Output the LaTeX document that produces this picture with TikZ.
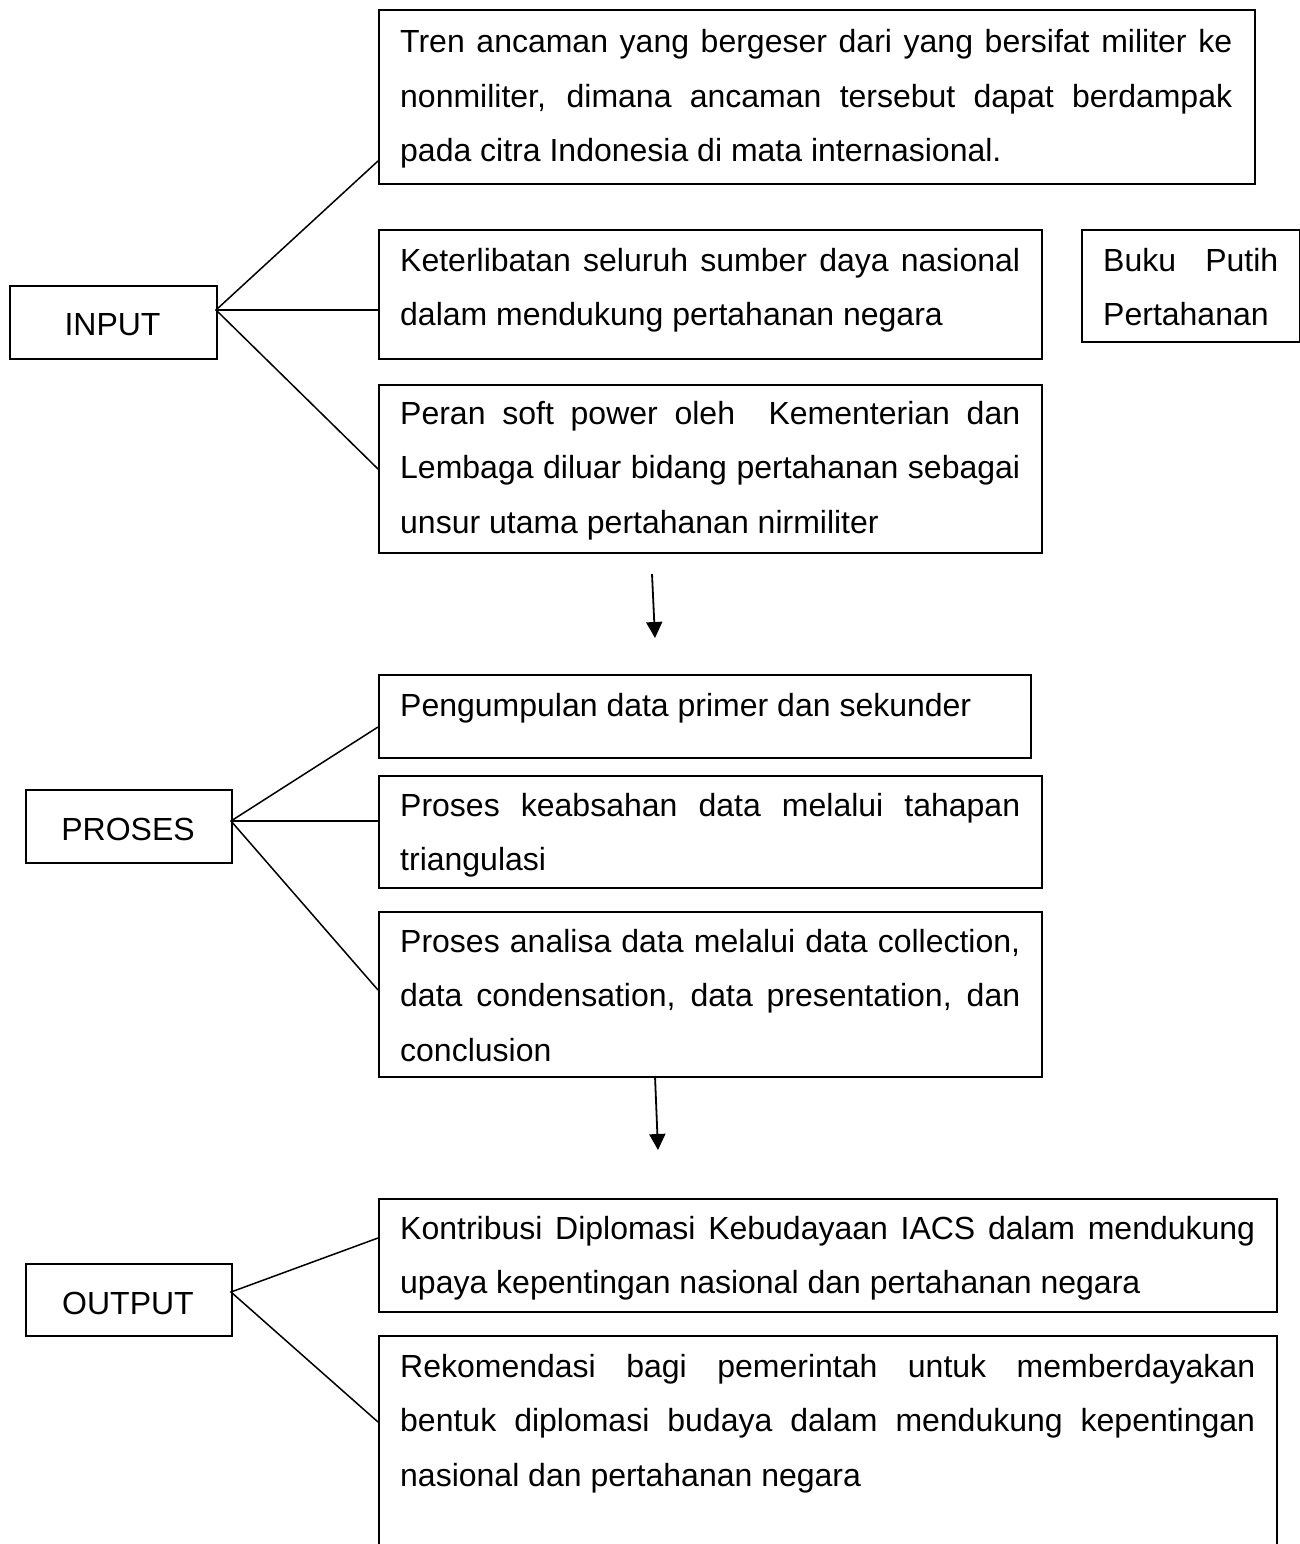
\documentclass[tikz,border=0pt]{standalone}
\usepackage{fontspec}
\setmainfont{Liberation Sans}
\usetikzlibrary{arrows.meta}
\tikzset{
  box/.style={draw, line width=1.8pt, rectangle, inner sep=0pt, anchor=north west},
  txt/.style={inner sep=0pt, anchor=base west, align=justify, font=\fontsize{32}{54.5}\selectfont},
  lbl/.style={inner sep=0pt, anchor=base, font=\fontsize{32}{38}\selectfont},
  conn/.style={line width=1.5pt},
  flow/.style={line width=1.8pt, -{Triangle[width=16pt,length=16pt]}}
}
\newcommand{\jl}[2]{{\spaceskip=\fontdimen2\font plus 1fil\relax\makebox[#1pt][s]{#2}}}
\newcommand{\nsp}{\spaceskip=0pt\xspaceskip=0pt\relax}
\begin{document}
\begin{tikzpicture}[x=1pt,y=-1pt]
\useasboundingbox (0,0) rectangle (1300,1544);
\clip (0,0) rectangle (1300,1544);

% boxes
\node[box, minimum width=876pt, minimum height=174pt] (tren) at (378,9) {};
\node[box, minimum width=663pt, minimum height=129pt] (ket) at (378,229) {};
\node[box, minimum width=218pt, minimum height=112pt] (buku) at (1081,229) {};
\node[box, minimum width=663pt, minimum height=168pt] (peran) at (378,384) {};
\node[box, minimum width=207pt, minimum height=73pt] (inp) at (9,285) {};
\node[box, minimum width=652pt, minimum height=83pt] (peng) at (378,674) {};
\node[box, minimum width=663pt, minimum height=112pt] (keab) at (378,775) {};
\node[box, minimum width=663pt, minimum height=165pt] (ana) at (378,911) {};
\node[box, minimum width=206pt, minimum height=73pt] (pros) at (25,789) {};
\node[box, minimum width=206pt, minimum height=72pt] (outp) at (25,1263) {};
\node[box, minimum width=898pt, minimum height=113pt] (kon) at (378,1198) {};
\node[box, minimum width=898pt, minimum height=280pt] (rek) at (378,1335) {};

% labels
\node[lbl] (inpt) at (112.5,335) {INPUT};
\node[lbl] (prost) at (128,840) {PROSES};
\node[lbl] (outpt) at (128,1314) {OUTPUT};

% texts
\node[txt, text width=832pt] (trent) at (400,53) {\nsp
\jl{832}{Tren ancaman yang bergeser dari yang bersifat militer ke}\\
\jl{832}{nonmiliter, dimana ancaman tersebut dapat berdampak}\\
pada citra Indonesia di mata internasional.};
\node[txt, text width=620pt] (kett) at (400,271) {\nsp
\jl{620}{Keterlibatan seluruh sumber daya nasional}\\
dalam mendukung pertahanan negara};
\node[txt, text width=175pt] (bukut) at (1103,271) {\nsp
\jl{175}{Buku Putih}\\
Pertahanan};
\node[txt, text width=620pt] (perant) at (400,424) {\nsp
\jl{620}{Peran soft power oleh \ Kementerian dan}\\
\jl{620}{Lembaga diluar bidang pertahanan sebagai}\\
unsur utama pertahanan nirmiliter};
\node[txt, text width=620pt] (pengt) at (400,716) {\nsp Pengumpulan data primer dan sekunder};
\node[txt, text width=620pt] (keabt) at (400,816) {\nsp
\jl{620}{Proses keabsahan data melalui tahapan}\\
triangulasi};
\node[txt, text width=620pt] (anat) at (400,952) {\nsp
\jl{620}{Proses analisa data melalui data collection,}\\
\jl{620}{data condensation, data presentation, dan}\\
conclusion};
\node[txt, text width=855pt] (kont) at (400,1239) {\nsp
\jl{855}{Kontribusi Diplomasi Kebudayaan IACS dalam mendukung}\\
upaya kepentingan nasional dan pertahanan negara};
\node[txt, text width=855pt] (rekt) at (400,1377) {\nsp
\jl{855}{Rekomendasi bagi pemerintah untuk memberdayakan}\\
\jl{855}{bentuk diplomasi budaya dalam mendukung kepentingan}\\
nasional dan pertahanan negara};

% connector points
\coordinate (iv) at (216,310);
\coordinate (tA) at (378,161);
\coordinate (kA) at (378,310);
\coordinate (pA) at (378,469);
\coordinate (pv) at (231,821);
\coordinate (gA) at (378,727);
\coordinate (bA) at (378,821);
\coordinate (aA) at (378,990);
\coordinate (ov) at (231,1292);
\coordinate (cA) at (378,1238);
\coordinate (rA) at (378,1422);

\draw[conn] (tA) -- (iv) -- (pA);
\draw[conn] (iv) -- (kA);
\draw[conn] (gA) -- (pv) -- (aA);
\draw[conn] (pv) -- (bA);
\draw[conn] (cA) -- (ov) -- (rA);

% flow arrows
\coordinate (f1s) at (652,574);
\coordinate (f1e) at (655,638);
\coordinate (f2s) at (655,1076);
\coordinate (f2e) at (658,1150);
\draw[flow] (f1s) -- (f1e);
\draw[flow] (f2s) -- (f2e);
\end{tikzpicture}
\end{document}
